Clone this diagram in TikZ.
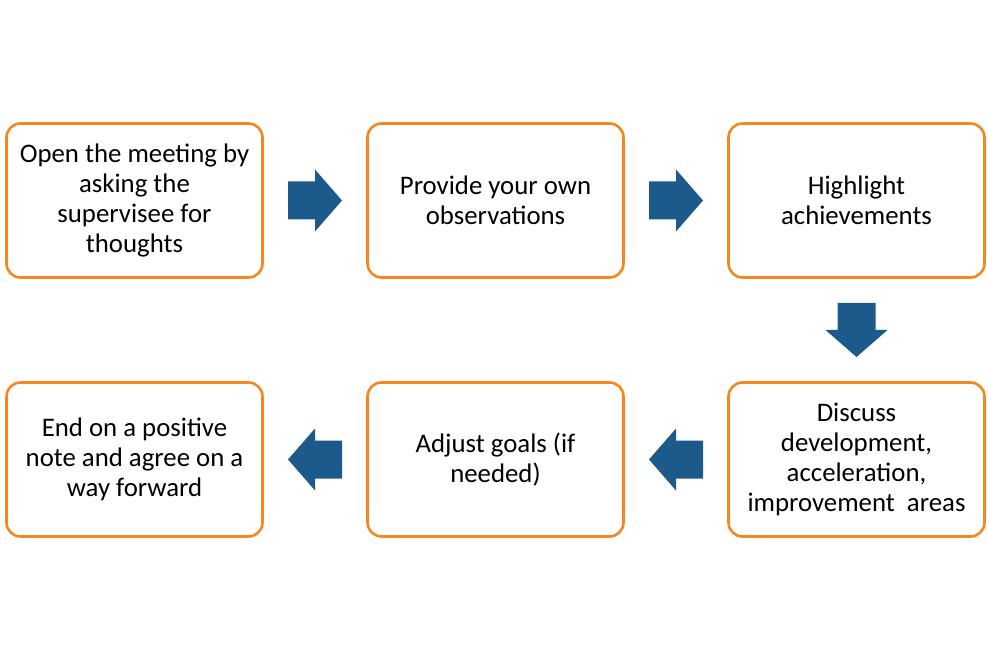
\documentclass[tikz,border=0pt]{standalone}
\usepackage{fontspec}
\setmainfont{Carlito}
\usetikzlibrary{calc}
\definecolor{boxorange}{RGB}{245,135,30}
\definecolor{arrowblue}{RGB}{27,90,138}
\begin{document}
\begin{tikzpicture}[x=1pt,y=-1pt,
  stepbox/.style={draw=boxorange, line width=2.6pt, rounded corners=14pt,
    fill=white, minimum width=256pt, minimum height=154pt, align=center,
    font=\fontsize{26.8}{30}\selectfont, inner sep=0pt},
  blockarrow/.pic={\fill[arrowblue] (-27,-19) -- (0,-19) -- (0,-31) -- (27,0)
    -- (0,31) -- (0,19) -- (-27,19) -- cycle;}]
\useasboundingbox (0,0) rectangle (988,660);

% top row
\node[stepbox] (open)      at (134.5,200.5) {Open the meeting by\\asking the\\supervisee for\\thoughts};
\node[stepbox] (provide)   at (495.5,200.5) {Provide your own\\observations};
\node[stepbox] (highlight) at (856.5,200.5) {Highlight\\achievements};

% bottom row
\node[stepbox] (endnote) at (134.5,459.5) {End on a positive\\note and agree on a\\way forward};
\node[stepbox] (adjust)  at (495.5,459.5) {Adjust goals (if\\needed)};
\node[stepbox] (discuss) at (856.5,459.5) {Discuss\\development,\\acceleration,\\improvement~ areas};

% block arrows between the steps
\pic at ($(open.east)!0.5!(provide.west)$) {blockarrow};
\pic at ($(provide.east)!0.5!(highlight.west)$) {blockarrow};
\pic[rotate=-90] at ($(highlight.south)!0.5!(discuss.north)$) {blockarrow};
\pic[rotate=180] at ($(discuss.west)!0.5!(adjust.east)$) {blockarrow};
\pic[rotate=180] at ($(adjust.west)!0.5!(endnote.east)$) {blockarrow};
\end{tikzpicture}
\end{document}
